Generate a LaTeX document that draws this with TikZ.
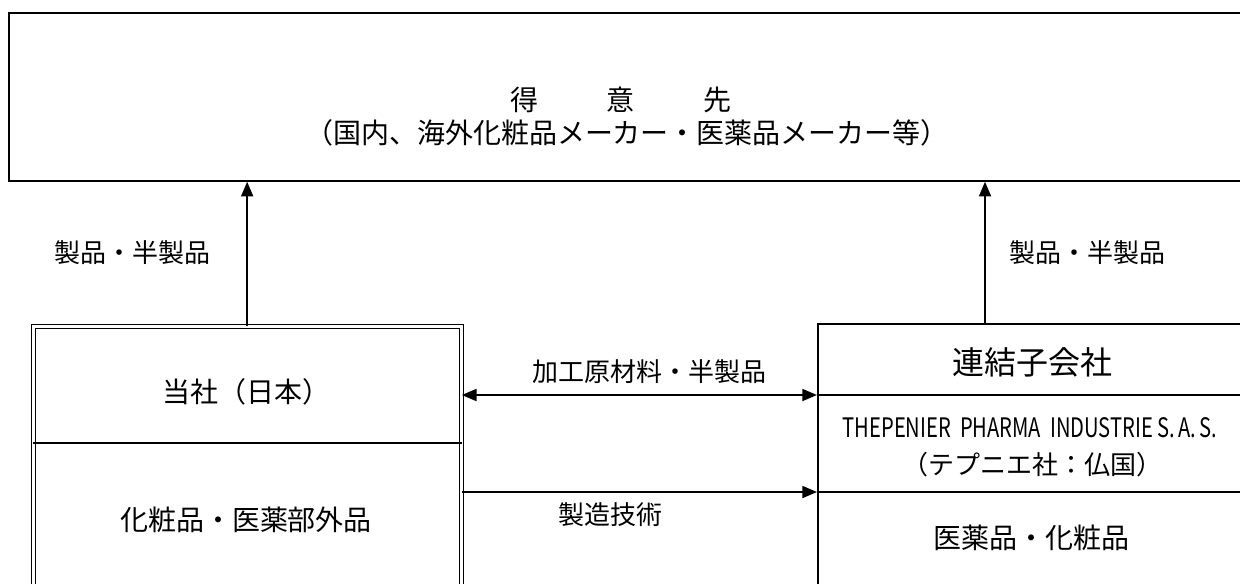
\documentclass[tikz,border=0pt]{standalone}
\usepackage{fontspec}
\newfontfamily\jp{Noto Sans CJK JP}
\usetikzlibrary{arrows.meta}
\tikzset{
  frame/.style={draw, line width=1.3pt, rectangle, anchor=north west, inner sep=0pt},
  dframe/.style={draw, line width=1pt, double, double distance=2pt, rectangle, anchor=north west, inner sep=0pt},
  txt/.style={inner sep=0pt, font=\jp\fontsize{21pt}{25pt}\selectfont},
  lbl/.style={inner sep=0pt, font=\jp\fontsize{19.5pt}{23pt}\selectfont},
  arr/.style={line width=1.3pt, -{Triangle[length=11pt,width=9pt]}},
  arrb/.style={line width=1.3pt, {Triangle[length=11pt,width=9pt]}-{Triangle[length=11pt,width=9pt]}},
  sep/.style={line width=1.3pt}
}
\begin{document}
\begin{tikzpicture}[x=0.75pt,y=-0.75pt]
\clip (0,0) rectangle (1240,583);
\fill[white] (0,0) rectangle (1240,583);
% customers box
\node[frame, minimum width=940.5pt, minimum height=126pt] (cust) at (8,12) {};
\node[txt] (custt) at (621,100) {得\hspace{51.75pt}意\hspace{51.75pt}先};
\node[txt] (custs) at (627,133) {（国内、海外化粧品メーカー・医薬品メーカー等）};
% left box (company)
\node[dframe, minimum width=321pt, minimum height=206pt] (tosha) at (32.5,325.5) {};
\draw[sep] (tosha.west |- 0,443) -- (tosha.east |- 0,443);
\node[txt] (toshan) at (246,392) {当社（日本）};
\node[txt] (toshap) at (246,520) {化粧品・医薬部外品};
% right box (subsidiary)
\node[frame, minimum width=324.75pt, minimum height=208pt] (sub) at (817,323) {};
\coordinate (d1) at (0,395);
\coordinate (d2) at (0,492);
\draw[sep] (sub.west |- d1) -- (sub.east |- d1);
\draw[sep] (sub.west |- d2) -- (sub.east |- d2);
\node[inner sep=0pt, font=\jp\fontsize{24pt}{28pt}\selectfont] (subn) at (1032,362) {連結子会社};
\node[inner sep=0pt] (subf) at (1030,428) {\resizebox{281pt}{15pt}{\jp THEPENIER\ \ PHARMA\ \ INDUSTRIE\ S.\,A.\,S.}};
\node[lbl] (subj) at (1032,465) {（テプニエ社：仏国）};
\node[txt] (subp) at (1031,538) {医薬品・化粧品};
% arrows up
\coordinate (ra) at (985,323);
\draw[arr] (tosha.north) -- (tosha.north |- cust.south);
\draw[arr] (ra) -- (ra |- cust.south);
\node[lbl] (l1) at (133,253) {製品・半製品};
\node[lbl] (l2) at (1087,253) {製品・半製品};
% horizontal arrows
\draw[arrb] (tosha.east |- d1) -- (sub.west |- d1);
\draw[arr] (tosha.east |- d2) -- (sub.west |- d2);
\node[lbl] (l3) at (649,372) {加工原材料・半製品};
\node[lbl] (l4) at (610,515) {製造技術};
\end{tikzpicture}
\end{document}
